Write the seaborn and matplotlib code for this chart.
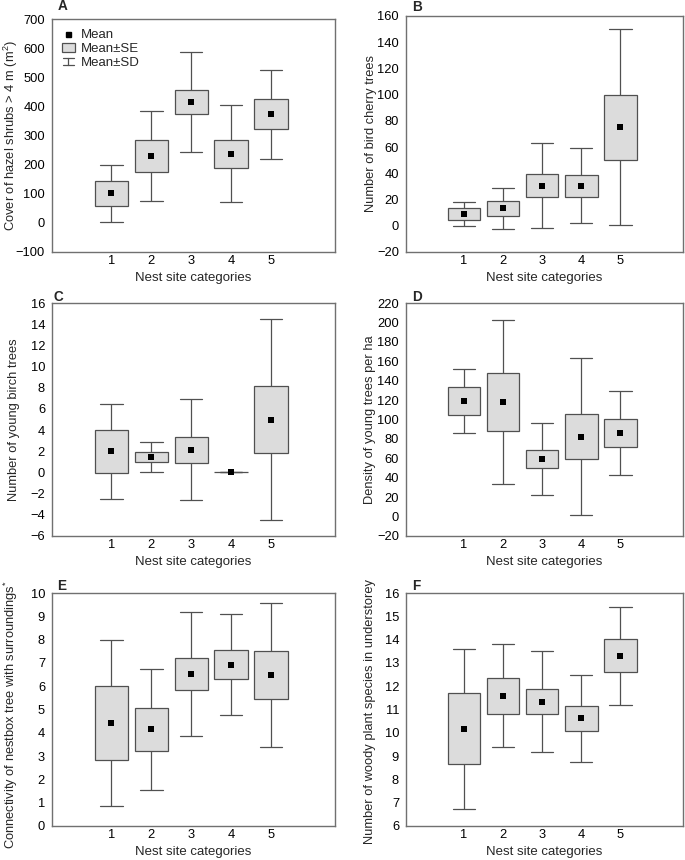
import numpy as np
import pandas as pd
import matplotlib
matplotlib.use("Agg")
import matplotlib.pyplot as plt
import seaborn as sns
from matplotlib.lines import Line2D
from matplotlib.patches import Patch
from matplotlib.legend_handler import HandlerBase

# ---------------- data ----------------
categories = [1, 2, 3, 4, 5]

hazel_mean = [101, 230, 415, 238, 373]
hazel_se = [43, 54.5, 42.5, 48, 51.5]
hazel_sd = [96.5, 154, 170.5, 166, 153]

cherry_mean = [9, 13.5, 30.5, 30.5, 75.3]
cherry_se = [4.5, 5.7, 8.8, 8.2, 24.8]
cherry_sd = [9.4, 15.6, 32.4, 28.7, 74.9]

birch_mean = [1.98, 1.48, 2.13, 0.0, 5.0]
birch_se = [2.0, 0.49, 1.2, 0.0, 3.18]
birch_sd = [4.47, 1.4, 4.77, 0.0, 9.5]

density_mean = [119.2, 118.0, 59.3, 82.3, 86.1]
density_se = [14.6, 29.6, 9.3, 23.2, 14.3]
density_sd = [33.1, 84.2, 36.9, 80.9, 42.8]

connect_mean = [4.42, 4.15, 6.52, 6.93, 6.47]
connect_se = [1.59, 0.91, 0.67, 0.62, 1.03]
connect_sd = [3.57, 2.59, 2.67, 2.16, 3.08]

species_mean = [10.17, 11.59, 11.33, 10.62, 13.3]
species_se = [1.53, 0.78, 0.54, 0.535, 0.71]
species_sd = [3.42, 2.2, 2.16, 1.88, 2.12]

panels = [
    ("A", "Cover of hazel shrubs > 4 m (m$^{2}$)", hazel_mean, hazel_se, hazel_sd, (-100, 700), 100),
    ("B", "Number of bird cherry trees", cherry_mean, cherry_se, cherry_sd, (-20, 160), 20),
    ("C", "Number of young birch trees", birch_mean, birch_se, birch_sd, (-6, 16), 2),
    ("D", "Density of young trees per ha", density_mean, density_se, density_sd, (-20, 220), 20),
    ("E", "Connectivity of nestbox tree with surroundings$^{*}$", connect_mean, connect_se, connect_sd, (0, 10), 1),
    ("F", "Number of woody plant species in understorey", species_mean, species_se, species_sd, (6, 16), 1),
]

xlabel = "Nest site categories"
legend_labels = ["Mean", "Mean\u00b1SE", "Mean\u00b1SD"]

# ---------------- style ----------------
sns.set_style("white")
plt.rcParams["font.family"] = ["Liberation Sans", "DejaVu Sans"]
plt.rcParams["mathtext.default"] = "regular"

BOX_FILL = "#dcdcdc"
LINE = "#505050"
FRAME = "#707070"

W, H = 685, 860
fig = plt.figure(figsize=(W / 100, H / 100), dpi=100)

# axes rectangles in pixels: left, top, right, bottom
rects = [
    (52, 19, 335, 252),
    (406, 16, 683, 252),
    (52, 303, 335, 536),
    (406, 303, 683, 536),
    (52, 593, 335, 826),
    (406, 593, 683, 826),
]
# y-label anchor (right edge, px) and vertical position (axes fraction)
ylabel_right = [20, 377, 20, 376, 20, 376]
ylabel_ypos = [0.5, 0.5, 0.5, 0.5, 0.48, 0.49]
# panel-letter positions (left, bottom) in px
letter_pos = [(58, 10), (412, 11), (53, 301), (412, 301), (57, 590), (412, 590)]


class SDKey:
    pass


class WhiskerHandler(HandlerBase):
    def create_artists(self, legend, orig_handle, xdescent, ydescent, width,
                       height, fontsize, trans):
        cx = width / 2 - xdescent
        y0 = -ydescent + 0.1 * height
        y1 = -ydescent + 0.85 * height
        w = width * 0.45
        lines = [
            Line2D([cx - w, cx + w], [y1, y1]),
            Line2D([cx, cx], [y0, y1]),
            Line2D([cx - w, cx + w], [y0, y0]),
        ]
        for ln in lines:
            ln.set_color(LINE)
            ln.set_linewidth(0.9)
            ln.set_transform(trans)
        return lines


for i, ((letter, ylab, mean, se, sd, ylim, step), (l, t, r, b)) in enumerate(zip(panels, rects)):
    ax = fig.add_axes([l / W, 1 - b / H, (r - l) / W, (b - t) / H])
    rows = []
    for c, m, e, s in zip(categories, mean, se, sd):
        for v in (m - s, m - e, m, m + e, m + s):
            rows.append({"cat": c, "value": v})
    df = pd.DataFrame(rows)
    sns.boxplot(
        data=df, x="cat", y="value", native_scale=True, whis=(0, 100),
        width=0.83, color=BOX_FILL, linecolor=LINE, linewidth=0.9,
        saturation=1, showfliers=False, ax=ax, capwidths=0.57,
        medianprops={"linewidth": 0, "alpha": 0},
    )
    means_df = pd.DataFrame({"cat": categories, "mean": mean})
    sns.scatterplot(data=means_df, x="cat", y="mean", marker="s", color="black",
                    s=14, linewidth=0, ax=ax, zorder=5)

    ax.set_xlim(-0.48, 6.6)
    ax.set_xticks(range(0, 7))
    ax.set_xticklabels([""] + [str(c) for c in categories] + [""])
    ax.set_ylim(*ylim)
    ax.set_yticks(np.arange(ylim[0], ylim[1] + step / 2, step))
    ax.set_xlabel(xlabel, fontsize=9.5, labelpad=3)
    ax.set_ylabel(ylab, fontsize=9.3)
    ax.yaxis.set_label_coords((ylabel_right[i] - l) / (r - l), ylabel_ypos[i])
    ax.tick_params(axis="x", direction="in", length=2.5, width=0.8, color=FRAME,
                   labelsize=9.3, pad=2.5, labelcolor="black")
    ax.tick_params(axis="y", direction="in", length=2.5, width=0.8, color=FRAME,
                   labelsize=9.3, pad=5, labelcolor="black")
    for sp in ax.spines.values():
        sp.set_color(FRAME)
        sp.set_linewidth(1.0)
        sp.set_visible(True)

    lx, ly = letter_pos[i]
    fig.text(lx / W, 1 - ly / H, letter, fontsize=9.8, fontweight="bold",
             va="baseline", ha="left")

    if letter == "A":
        handles = [
            Line2D([], [], marker="s", color="black", linestyle="none", markersize=3.6),
            Patch(facecolor=BOX_FILL, edgecolor=LINE, linewidth=0.9),
            SDKey(),
        ]
        ax.legend(handles, legend_labels, loc="upper left", frameon=False,
                  fontsize=9.5, handlelength=1.0, handletextpad=0.45,
                  labelspacing=0.12, borderaxespad=0.55, borderpad=0.2,
                  handler_map={SDKey: WhiskerHandler()})

fig.savefig("out.png", dpi=100)
